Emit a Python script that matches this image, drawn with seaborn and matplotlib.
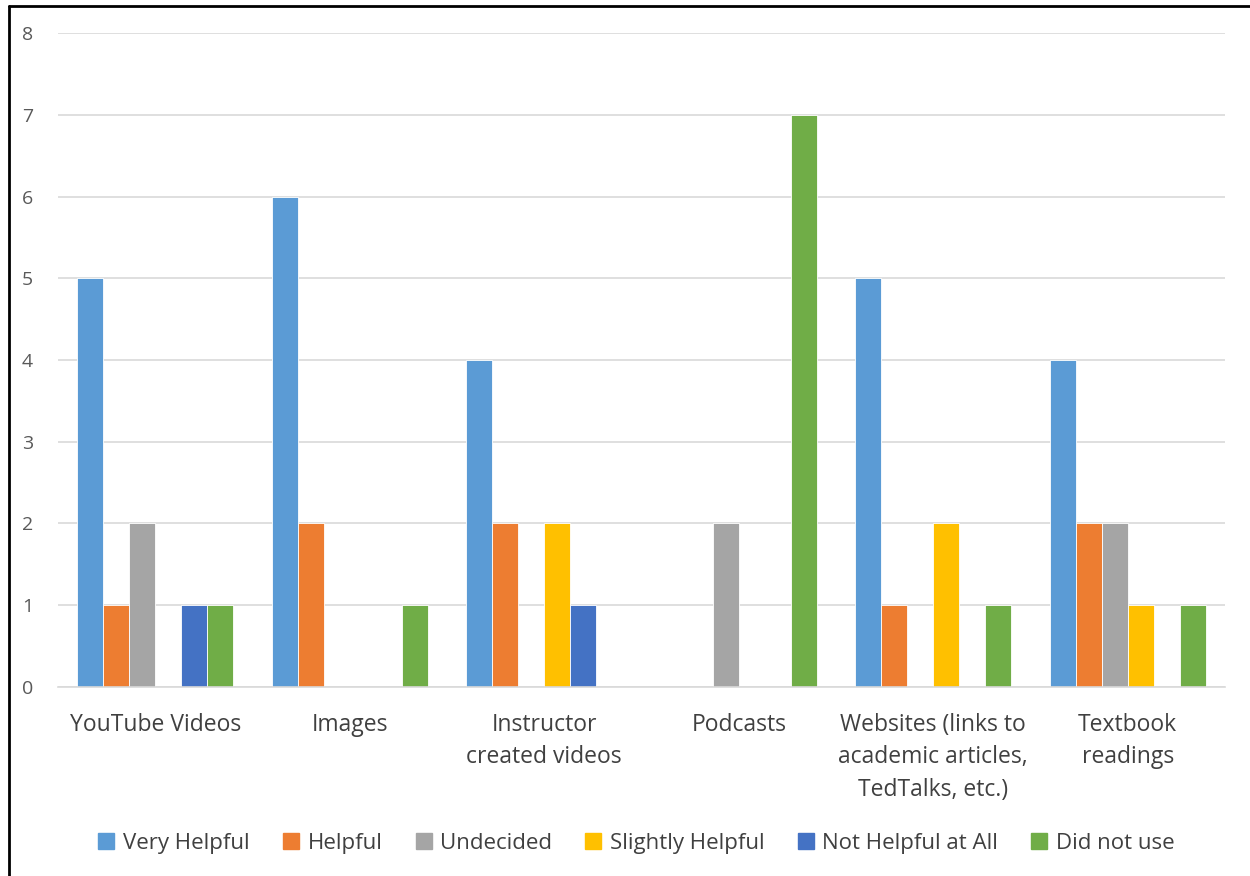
import matplotlib.pyplot as plt
import matplotlib.lines as mlines
import pandas as pd
import seaborn as sns

categories = [
    "YouTube Videos",
    "Images",
    "Instructor\ncreated videos",
    "Podcasts",
    "Websites (links to\nacademic articles,\nTedTalks, etc.)",
    "Textbook\nreadings",
]
ratings = [
    "Very Helpful",
    "Helpful",
    "Undecided",
    "Slightly Helpful",
    "Not Helpful at All",
    "Did not use",
]
very_helpful = [5, 6, 4, 0, 5, 4]
helpful = [1, 2, 2, 0, 1, 2]
undecided = [2, 0, 0, 2, 0, 2]
slightly_helpful = [0, 0, 2, 0, 2, 1]
not_helpful = [1, 0, 1, 0, 0, 0]
did_not_use = [1, 1, 0, 7, 1, 1]

colors = ["#5B9BD5", "#ED7D31", "#A5A5A5", "#FFC000", "#4472C4", "#70AD47"]

series = [very_helpful, helpful, undecided, slightly_helpful, not_helpful, did_not_use]
rows = []
for rating, vals in zip(ratings, series):
    for cat, v in zip(categories, vals):
        rows.append({"category": cat, "rating": rating, "count": v})
df = pd.DataFrame(rows)

sns.set_style("white")
plt.rcParams["font.family"] = ["Open Sans", "DejaVu Sans"]

fig = plt.figure(figsize=(12.5, 8.76), dpi=100)
ax = fig.add_axes([0.0464, 0.2158, 0.9336, 0.7465])

sns.barplot(
    data=df, x="category", y="count", hue="rating",
    order=categories, hue_order=ratings, palette=colors, saturation=1,
    width=0.8, edgecolor="white", linewidth=0.6, ax=ax,
)

ax.set_ylim(0, 8)
ax.set_xlim(-0.5, len(categories) - 0.5)
ax.set_yticks(range(0, 9))
ax.yaxis.grid(True, color="#D9D9D9", linewidth=1.2)
ax.set_axisbelow(True)
for s in ["top", "right", "left"]:
    ax.spines[s].set_visible(False)
ax.spines["bottom"].set_color("#D9D9D9")
ax.spines["bottom"].set_linewidth(1.2)
ax.set_xlabel("")
ax.set_ylabel("")
ax.tick_params(axis="y", length=0, pad=18, labelsize=14, labelcolor="#595959")
ax.tick_params(axis="x", length=0, pad=19, labelsize=16.5, labelcolor="#404040")
for lbl in ax.get_xticklabels():
    lbl.set_linespacing(1.45)
    lbl.set_verticalalignment("top")

ax.get_legend().remove()
handles = [
    mlines.Line2D([], [], marker="s", linestyle="", markersize=11,
                  markerfacecolor=c, markeredgecolor=c)
    for c in colors
]
fig.legend(
    handles, ratings, loc="center", bbox_to_anchor=(0.508, 0.037),
    ncol=6, frameon=False, fontsize=16, handletextpad=0.25,
    handlelength=1.0, columnspacing=1.35, labelcolor="#404040",
)

# frame lines seen at the left and top of the picture
fig.add_artist(mlines.Line2D([0.0072, 0.0072], [0, 0.993], color="black", linewidth=2))
fig.add_artist(mlines.Line2D([0.0072, 1], [0.993, 0.993], color="black", linewidth=2))

fig.savefig("out.png", dpi=100)
